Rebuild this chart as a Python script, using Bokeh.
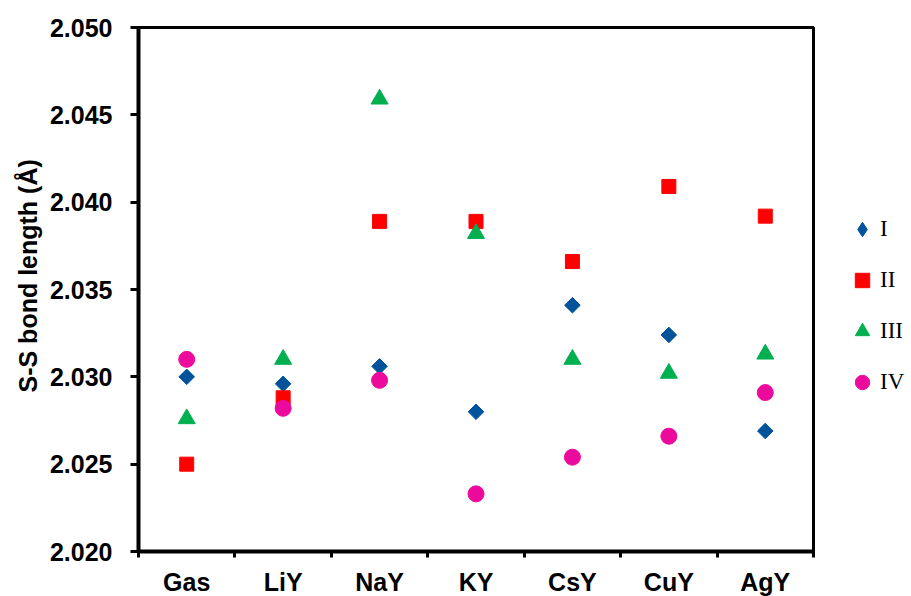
import math
from bokeh.plotting import figure
from bokeh.models import FixedTicker, Legend, LegendItem, Title, Range1d, PrintfTickFormatter
from bokeh.embed import file_html
from bokeh.resources import INLINE

categories = ["Gas", "LiY", "NaY", "KY", "CsY", "CuY", "AgY"]
series_names = ["I", "II", "III", "IV"]
values_I = [2.0300, 2.0296, 2.0306, 2.0280, 2.0341, 2.0324, 2.0269]
values_II = [2.0250, 2.0288, 2.0389, 2.0389, 2.0366, 2.0409, 2.0392]
values_III = [2.0276, 2.0310, 2.0459, 2.0382, 2.0310, 2.0302, 2.0313]
values_IV = [2.0310, 2.0282, 2.0298, 2.0233, 2.0254, 2.0266, 2.0291]
y_ticks = [2.020, 2.025, 2.030, 2.035, 2.040, 2.045, 2.050]
y_label = "S-S bond length  (Å)"

colors = ["#00529B", "#FF0000", "#00B050", "#EC0A9C"]

xs = list(range(len(categories)))

p = figure(width=911, height=596, output_backend="svg", toolbar_location=None,
           x_range=Range1d(-0.5, len(categories) - 0.5),
           y_range=Range1d(y_ticks[0], y_ticks[-1]),
           min_border_left=138, min_border_right=98, min_border_top=27, min_border_bottom=45)
p.frame_width = 675
p.frame_height = 524
p.background_fill_color = "white"
p.border_fill_color = "white"
p.outline_line_color = "black"
p.outline_line_width = 3
p.xgrid.visible = False
p.ygrid.visible = False

# x axis: labels at category centers, ticks at boundaries
p.xaxis.ticker = FixedTicker(ticks=xs, minor_ticks=[i - 0.5 for i in range(len(categories) + 1)])
p.xaxis.major_label_overrides = {i: c for i, c in enumerate(categories)}
p.xaxis.major_tick_line_color = None
p.xaxis.major_tick_out = 6
p.xaxis.major_tick_in = 0
p.xaxis.minor_tick_line_color = "black"
p.xaxis.minor_tick_line_width = 3
p.xaxis.minor_tick_out = 6
p.xaxis.minor_tick_in = 0
p.xaxis.major_label_standoff = 10

p.yaxis.ticker = FixedTicker(ticks=y_ticks)
p.yaxis.formatter = PrintfTickFormatter(format="%.3f")
p.yaxis.major_tick_line_width = 3
p.yaxis.major_tick_out = 8
p.yaxis.major_tick_in = 0
p.yaxis.minor_tick_line_color = None
p.yaxis.major_label_standoff = 18

for ax in (p.xaxis, p.yaxis):
    ax.axis_line_width = 4
    ax.axis_line_color = "black"
    ax.major_label_text_font = "Liberation Sans"
    ax.major_label_text_font_style = "bold"
    ax.major_label_text_font_size = "25px"
    ax.major_label_text_color = "black"

r1 = p.scatter(xs, values_I, marker="square", angle=math.pi / 4, size=11,
               fill_color=colors[0], line_color=colors[0])
r2 = p.scatter(xs, values_II, marker="square", size=14,
               fill_color=colors[1], line_color=colors[1])
r3 = p.scatter(xs, values_III, marker="triangle", size=17,
               fill_color=colors[2], line_color=colors[2])
r4 = p.scatter(xs, values_IV, marker="circle", size=16,
               fill_color=colors[3], line_color=colors[3])

# legend-only renderer (not visible in the plot) so the legend shows a diamond for series I
r1_leg = p.scatter([xs[0]], [float("nan")], marker="diamond",
                   fill_color=colors[0], line_color=colors[0])

legend = Legend(items=[LegendItem(label=n, renderers=[r]) for n, r in zip(series_names, [r1_leg, r2, r3, r4])],
                location=(31, 151), orientation="vertical",
                glyph_width=36, glyph_height=36, label_height=20, label_standoff=0,
                spacing=15, padding=0, margin=0,
                border_line_color=None, background_fill_alpha=0,
                label_text_font="Liberation Serif", label_text_font_size="23px",
                label_text_color="black")
p.add_layout(legend, "right")

p.add_layout(Title(text=y_label, align="left", offset=159, standoff=10,
                   text_font="Liberation Sans", text_font_style="bold",
                   text_font_size="25px", text_color="black"), "left")

open("out.html", "w").write(file_html(p, INLINE))
